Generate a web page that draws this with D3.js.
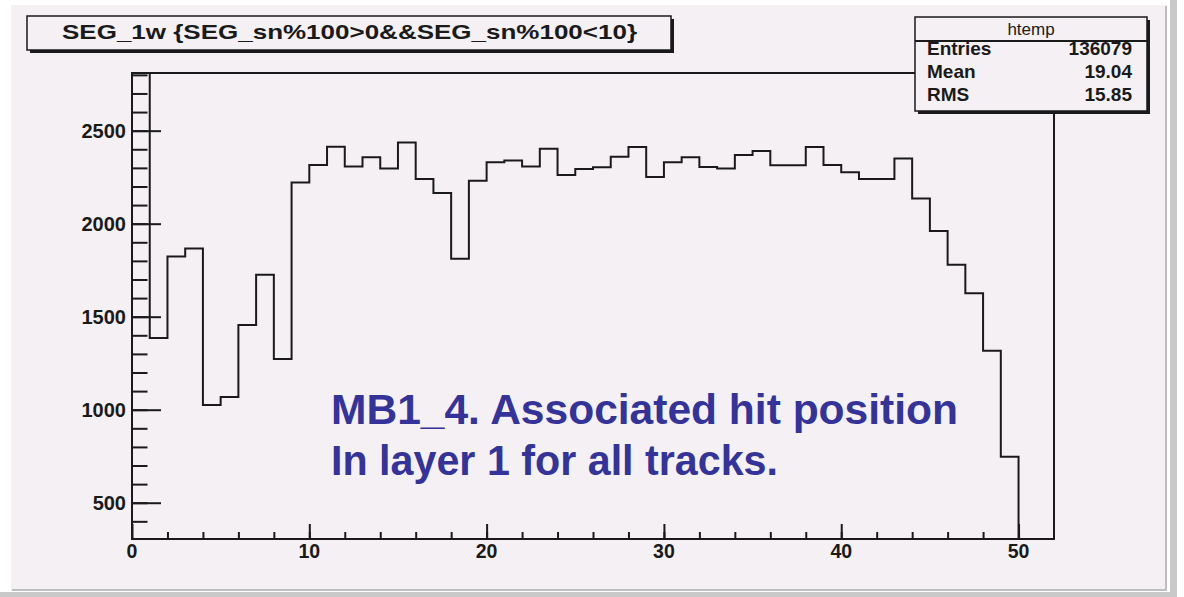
<!DOCTYPE html>
<html>
<head>
<meta charset="utf-8">
<script src="https://cdn.jsdelivr.net/npm/d3@7"></script>
<style>
  html, body { margin: 0; padding: 0; background: #ffffff; }
  svg { display: block; font-family: "Liberation Sans", Arial, Helvetica, sans-serif; }
</style>
</head>
<body>
<svg id="chart" width="1184" height="597"></svg>
<script>
// bin contents of SEG_1w, one entry per unit bin starting at 0 (bin 0 is off scale)
const counts = [35330, 1385, 1823, 1866, 1025, 1068, 1456, 1725, 1272, 2221,
  2316, 2414, 2307, 2357, 2296, 2436, 2240, 2165, 1811, 2231,
  2330, 2339, 2307, 2403, 2262, 2294, 2303, 2360, 2412, 2251,
  2330, 2357, 2305, 2296, 2369, 2391, 2314, 2314, 2412, 2316,
  2276, 2240, 2240, 2350, 2135, 1961, 1779, 1626, 1317, 747,
  0, 0];
const xTicks = [0, 10, 20, 30, 40, 50];
const yTicks = [500, 1000, 1500, 2000, 2500];
const statLabels = ['Entries', 'Mean', 'RMS'];
const statValues = ['136079', '19.04', '15.85'];
const titleText = 'SEG_1w {SEG_sn%100>0&&SEG_sn%100<10}';
const noteLines = ['MB1_4. Associated hit position', 'In layer 1 for all tracks.'];

const svg = d3.select('#chart');
const padFill = '#f4f0f4';
const ink = '#1a1a1a';

// canvas / pad with its bevelled border
svg.append('rect').attr('x', 0).attr('y', 0).attr('width', 1184).attr('height', 597).attr('fill', '#ffffff');
svg.append('rect').attr('x', 1170).attr('y', 0).attr('width', 7).attr('height', 597).attr('fill', '#c9c9c9');
svg.append('rect').attr('x', 0).attr('y', 592).attr('width', 1177).attr('height', 5).attr('fill', '#c9c9c9');
svg.append('rect').attr('x', 11).attr('y', 5).attr('width', 1156).attr('height', 586).attr('fill', padFill);
svg.append('path').attr('d', 'M1166,6 L1166,590 L12,590').attr('fill', 'none').attr('stroke', '#bdbdbd').attr('stroke-width', 2);

const frame = {left: 132, right: 1054, top: 73, bottom: 539};

const x = d3.scaleLinear().domain([0, 52]).range([frame.left, frame.right]);
const y = d3.scaleLinear().domain([305, 2810]).range([frame.bottom, frame.top]);

svg.append('clipPath').attr('id', 'frameClip')
  .append('rect')
  .attr('x', frame.left).attr('y', frame.top)
  .attr('width', frame.right - frame.left).attr('height', frame.bottom - frame.top);

// histogram outline
const pts = [[0, y.domain()[0]]];
counts.forEach((c, i) => {
  pts.push([i, c]);
  pts.push([i + 1, c]);
});
const line = d3.line()
  .x(d => x(d[0]))
  .y(d => y(Math.max(y.domain()[0], Math.min(d[1], y.domain()[1] + 50))));

svg.append('path')
  .attr('clip-path', 'url(#frameClip)')
  .attr('d', line(pts))
  .attr('fill', 'none')
  .attr('stroke', ink)
  .attr('stroke-width', 2);

// frame
svg.append('rect')
  .attr('x', frame.left).attr('y', frame.top)
  .attr('width', frame.right - frame.left).attr('height', frame.bottom - frame.top)
  .attr('fill', 'none').attr('stroke', ink).attr('stroke-width', 2);

// y axis, ticks drawn inside the frame
const yAxis = svg.append('g').attr('transform', `translate(${frame.left},0)`);
yAxis.call(d3.axisRight(y).tickValues(d3.range(400, 2801, 100)).tickSize(15.5).tickFormat(''))
  .call(g => g.select('.domain').remove());
yAxis.call(g => g.append('g').call(d3.axisRight(y).tickValues(yTicks).tickSize(29).tickFormat(''))
  .call(a => a.select('.domain').remove()));
yAxis.selectAll('line').attr('stroke', ink).attr('stroke-width', 2);

svg.append('g').selectAll('text')
  .data(yTicks)
  .enter()
  .append('text')
  .attr('x', 126)
  .attr('y', d => y(d) + 7)
  .attr('text-anchor', 'end')
  .attr('font-size', 20)
  .attr('font-weight', 'bold')
  .attr('fill', ink)
  .text(d => d);

// x axis
const xAxis = svg.append('g').attr('transform', `translate(0,${frame.bottom})`);
xAxis.call(d3.axisTop(x).tickValues(d3.range(2, 51, 2)).tickSize(7).tickFormat(''))
  .call(g => g.select('.domain').remove());
xAxis.call(g => g.append('g').call(d3.axisTop(x).tickValues(xTicks).tickSize(15).tickFormat(''))
  .call(a => a.select('.domain').remove()));
xAxis.selectAll('line').attr('stroke', ink).attr('stroke-width', 2);

svg.append('g').selectAll('text')
  .data(xTicks)
  .enter()
  .append('text')
  .attr('x', d => x(d))
  .attr('y', 558)
  .attr('text-anchor', 'middle')
  .attr('font-size', 19.5)
  .attr('font-weight', 'bold')
  .attr('fill', ink)
  .text(d => d);

// title box
svg.append('rect').attr('x', 30).attr('y', 19).attr('width', 644).attr('height', 34).attr('fill', ink);
svg.append('rect').attr('x', 27).attr('y', 16).attr('width', 644).attr('height', 34)
  .attr('fill', padFill).attr('stroke', ink).attr('stroke-width', 1.5);
svg.append('text')
  .attr('x', 62).attr('y', 39)
  .attr('font-size', 21).attr('font-weight', 'bold').attr('fill', ink)
  .attr('textLength', 575).attr('lengthAdjust', 'spacingAndGlyphs')
  .text(titleText);

// stats box
svg.append('rect').attr('x', 918).attr('y', 20).attr('width', 232).attr('height', 94).attr('fill', ink);
svg.append('rect').attr('x', 915).attr('y', 17).attr('width', 232).attr('height', 94)
  .attr('fill', padFill).attr('stroke', ink).attr('stroke-width', 1.5);
svg.append('line').attr('x1', 915).attr('x2', 1147).attr('y1', 41).attr('y2', 41)
  .attr('stroke', ink).attr('stroke-width', 2);
svg.append('text')
  .attr('x', 1031).attr('y', 35)
  .attr('text-anchor', 'middle')
  .attr('font-size', 17).attr('fill', ink)
  .text('htemp');

const rowY = [55, 78, 101];
svg.append('g').selectAll('text')
  .data(statLabels)
  .enter()
  .append('text')
  .attr('x', 927)
  .attr('y', (d, i) => rowY[i])
  .attr('font-size', 19).attr('font-weight', 'bold').attr('fill', ink)
  .text(d => d);
svg.append('g').selectAll('text')
  .data(statValues)
  .enter()
  .append('text')
  .attr('x', 1132)
  .attr('y', (d, i) => rowY[i])
  .attr('text-anchor', 'end')
  .attr('font-size', 19).attr('font-weight', 'bold').attr('fill', ink)
  .text(d => d);

// blue annotation
const noteWidths = [627, 447];
svg.append('g').selectAll('text')
  .data(noteLines)
  .enter()
  .append('text')
  .attr('x', 331)
  .attr('y', (d, i) => 424 + i * 51)
  .attr('font-size', 42)
  .attr('font-weight', 'bold')
  .attr('fill', '#333399')
  .attr('textLength', (d, i) => noteWidths[i])
  .attr('lengthAdjust', 'spacingAndGlyphs')
  .text(d => d);
</script>
</body>
</html>
